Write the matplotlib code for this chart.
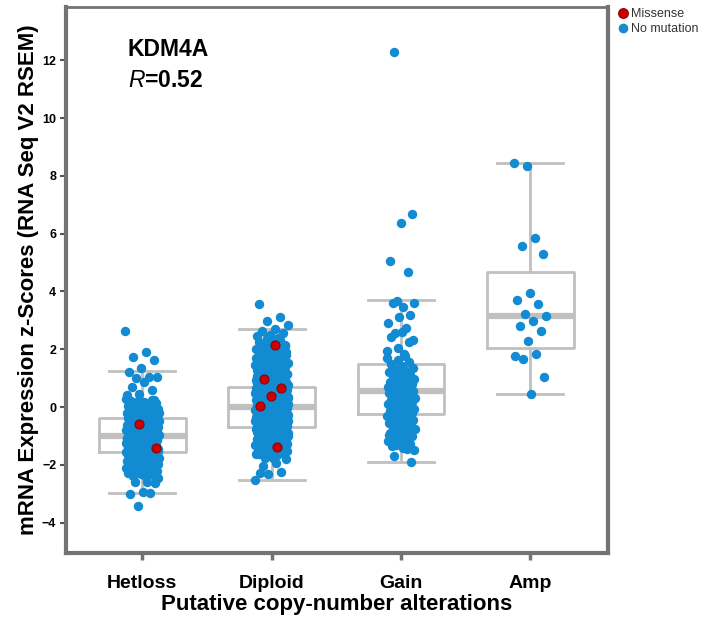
import matplotlib
matplotlib.use("Agg")
import matplotlib.pyplot as plt
from matplotlib.lines import Line2D
import numpy as np

plt.rcParams["font.family"] = ["Liberation Sans", "DejaVu Sans"]
plt.rcParams["mathtext.fontset"] = "custom"
plt.rcParams["mathtext.it"] = "Liberation Sans:italic"
plt.rcParams["mathtext.rm"] = "Liberation Sans"

categories = ["Hetloss", "Diploid", "Gain", "Amp"]
gene = "KDM4A"
r_value = 0.52

# Box statistics per group: lower whisker, Q1, median, Q3, upper whisker
whislo = [-2.98, -2.53, -1.90, 0.45]
q1 = [-1.56, -0.70, -0.25, 2.05]
medians = [-1.00, 0.00, 0.55, 3.15]
q3 = [-0.38, 0.70, 1.49, 4.67]
whishi = [1.25, 2.70, 3.72, 8.46]

hetloss_values = [
    2.63, 1.90, 1.74, 1.63, 1.34, 1.22, 1.05, 1.00, 1.05, 0.88, 0.70, 0.59, 0.45, 0.40,
    -2.60, -2.58, -2.62, -2.95, -3.00, -2.97, -3.43,
    -2.45, -2.41, -2.38, -2.36, -2.33, -2.30, -2.28, -2.25, -2.23, -2.21, -2.19, -2.16, -2.14, -2.12,
    -2.10, -2.08, -2.06, -2.04, -2.02, -2.00,
    -1.98, -1.96, -1.95, -1.93, -1.91, -1.90, -1.88, -1.86, -1.85, -1.83, -1.81, -1.80, -1.78, -1.77,
    -1.75, -1.73, -1.72, -1.70, -1.69, -1.67, -1.66, -1.64, -1.63, -1.61, -1.60, -1.58, -1.57, -1.55,
    -1.54, -1.52, -1.51, -1.49, -1.48, -1.46, -1.45, -1.44, -1.42, -1.41, -1.39, -1.38, -1.37, -1.35,
    -1.34, -1.32, -1.31, -1.30, -1.28, -1.27, -1.26, -1.24, -1.23, -1.22, -1.20, -1.19, -1.18, -1.16,
    -1.15, -1.14, -1.12, -1.11, -1.10, -1.08, -1.07, -1.06, -1.04, -1.03, -1.02, -1.01,
    -0.99, -0.98, -0.96, -0.95, -0.94, -0.92, -0.91, -0.90, -0.88, -0.87, -0.86, -0.84, -0.83, -0.81,
    -0.80, -0.79, -0.77, -0.76, -0.74, -0.73, -0.71, -0.70, -0.68, -0.67, -0.65, -0.64, -0.62, -0.61,
    -0.59, -0.58, -0.56, -0.55, -0.53, -0.52, -0.50,
    -0.48, -0.46, -0.44, -0.42, -0.40, -0.38, -0.36, -0.34, -0.32, -0.30, -0.28, -0.26, -0.24, -0.22,
    -0.20, -0.18, -0.16, -0.14, -0.12, -0.10, -0.08, -0.06, -0.04, -0.02, 0.00,
    0.02, 0.05, 0.08, 0.11, 0.14, 0.17, 0.20, 0.23, 0.26, 0.29,
    -2.35, -2.18, -2.05, -1.92, -1.84, -1.71, -1.62, -1.53, -1.43, -1.33, -1.25, -1.17, -1.09,
    -0.97, -0.89, -0.78, -0.69, -0.57, -0.47, -0.35, -0.21, -0.07, 0.10, 0.25,
]

diploid_values = [
    3.57, 3.13, 2.98, 2.85, 2.70, 2.62, 2.55, 2.50, 2.45, 2.40,
    -1.77, -1.80, -1.75, -2.30, -2.25, -2.33, -2.53, -1.95, -2.05,
    1.02, 1.05, 1.07, 1.10, 1.12, 1.15, 1.18, 1.20, 1.23, 1.26, 1.28, 1.31, 1.34, 1.37, 1.40, 1.43,
    1.46, 1.49, 1.52, 1.55, 1.58, 1.62, 1.65, 1.69, 1.72, 1.76, 1.80, 1.84, 1.88, 1.92, 1.96, 2.00,
    2.05, 2.10, 2.15, 2.20, 2.26, 2.32, 2.38,
    -1.01, -1.03, -1.05, -1.08, -1.10, -1.12, -1.14, -1.17, -1.19, -1.21, -1.24, -1.26, -1.28, -1.31,
    -1.33, -1.36, -1.38, -1.41, -1.43, -1.46, -1.48, -1.51, -1.53, -1.56, -1.58, -1.61, -1.63, -1.66,
    -0.99, -0.98, -0.96, -0.95, -0.94, -0.92, -0.91, -0.90, -0.89, -0.87, -0.86, -0.85, -0.84, -0.82,
    -0.81, -0.80, -0.78, -0.77, -0.76, -0.75, -0.73, -0.72, -0.71, -0.70, -0.69, -0.68, -0.66, -0.65,
    -0.64, -0.63, -0.62, -0.60, -0.59, -0.58, -0.57, -0.56, -0.55, -0.53, -0.52, -0.51, -0.50, -0.49,
    -0.48, -0.46, -0.45, -0.44, -0.43, -0.42, -0.41, -0.40, -0.38, -0.37, -0.36, -0.35, -0.34, -0.33,
    -0.32, -0.30, -0.29, -0.28, -0.27, -0.26, -0.25, -0.24, -0.22, -0.21, -0.20, -0.19, -0.18, -0.17,
    -0.16, -0.15, -0.13, -0.12, -0.11, -0.10, -0.09, -0.08, -0.07, -0.06, -0.05, -0.04, -0.03, -0.02,
    -0.01, 0.00, 0.01, 0.02, 0.03, 0.04, 0.05, 0.06, 0.07, 0.08, 0.09, 0.10, 0.11, 0.12, 0.13, 0.14,
    0.15, 0.16, 0.17, 0.18, 0.20, 0.21, 0.22, 0.23, 0.24, 0.25, 0.26, 0.27, 0.29, 0.30, 0.31, 0.32,
    0.33, 0.34, 0.35, 0.37, 0.38, 0.39, 0.40, 0.41, 0.42, 0.44, 0.45, 0.46, 0.47, 0.48, 0.50, 0.51,
    0.52, 0.53, 0.55, 0.56, 0.57, 0.58, 0.60, 0.61, 0.62, 0.63, 0.65, 0.66, 0.67, 0.68, 0.70, 0.71,
    0.72, 0.74, 0.75, 0.76, 0.78, 0.79, 0.80, 0.82, 0.83, 0.84, 0.86, 0.87, 0.89, 0.90, 0.92, 0.93,
    0.95, 0.96, 0.98, 0.99,
    -1.64, -1.52, -1.39, -1.27, -1.16, -1.06, -0.97, -0.88, -0.79, -0.67, -0.54, -0.39, -0.23,
    -0.14, 0.19, 0.28, 0.36, 0.43, 0.54, 0.64, 0.73, 0.81, 0.91, 1.03, 1.13, 1.24, 1.35, 1.47,
    1.59, 1.71, 1.83, 1.97, 2.12, 2.28, -1.45, -1.22, -0.83, -0.47, -0.31, 0.07, 0.49, 0.77,
    1.08, 1.33, 1.61, 1.90, 2.18, -1.35, -0.61, 0.58, 1.45, 1.74,
]

gain_values = [
    12.27, 6.68, 6.37, 5.06, 4.66, 3.67, 3.60, 3.45, 3.60, 3.20, 3.10, 2.90, 2.75, 2.56, 2.32,
    2.61, 2.44, 2.26, 2.05, 1.95, 1.85, -1.69, -1.90, -1.14, -0.96, -1.45, -1.30,
    -1.49, -1.42, -1.36, -1.28, -1.22, -1.18, -1.10, -1.05, -1.00, -0.95, -0.90, -0.85, -0.80, -0.76,
    -0.72, -0.68, -0.64, -0.60, -0.56, -0.52, -0.49, -0.46, -0.42, -0.39, -0.36, -0.33, -0.30, -0.27,
    -0.24, -0.21, -0.18, -0.15, -0.12, -0.09, -0.06, -0.03, 0.00, 0.03, 0.06, 0.09, 0.12, 0.15,
    0.18, 0.21, 0.24, 0.27, 0.30, 0.33, 0.36, 0.39, 0.42, 0.45, 0.48, 0.51, 0.54, 0.56, 0.58, 0.61,
    0.64, 0.67, 0.70, 0.73, 0.76, 0.79, 0.82, 0.86, 0.90, 0.94, 0.98, 1.02, 1.06, 1.10, 1.15, 1.20,
    1.25, 1.30, 1.36, 1.42, 1.48, 1.55, 1.62, 1.70, 1.78,
]

amp_values = [
    8.35, 8.45, 5.85, 5.56, 5.30, 3.96, 3.71, 3.57, 3.22, 3.15,
    2.98, 2.82, 2.63, 2.29, 1.78, 1.84, 1.65, 1.03, 0.44,
]

# Missense-mutated samples: group index and expression value
missense_group = [0, 0, 1, 1, 1, 1, 1, 1]
missense_values = [-0.57, -1.41, 2.15, 0.96, 0.65, 0.39, 0.05, -1.40]

no_mutation_values = [hetloss_values, diploid_values, gain_values, amp_values]

BLUE = "#128bd2"
RED = "#d00000"
GREY = "#c0c0c0"
FRAME = "#737373"


def strip_offsets(n, half_width, phase=0.0):
    """Deterministic horizontal spread for a strip plot."""
    k = (np.arange(n) * 0.6180339887 + phase) % 1.0
    return (k - 0.5) * 2 * half_width


fig = plt.figure(figsize=(7.02, 6.22), dpi=100)
ax = fig.add_axes([0.094, 0.111, 0.772, 0.878])

positions = np.arange(len(categories))
stats = [
    dict(whislo=whislo[i], q1=q1[i], med=medians[i], q3=q3[i], whishi=whishi[i])
    for i in range(len(categories))
]
ax.bxp(
    stats,
    positions=positions,
    widths=0.67,
    capwidths=0.51,
    showfliers=False,
    boxprops=dict(color=GREY, linewidth=2.0),
    whiskerprops=dict(color=GREY, linewidth=2.0),
    capprops=dict(color=GREY, linewidth=2.0),
    medianprops=dict(color=GREY, linewidth=4.5, solid_capstyle="butt"),
    zorder=1,
)

half_widths = [0.13, 0.13, 0.11, 0.13]
for i, vals in enumerate(no_mutation_values):
    xs = positions[i] + strip_offsets(len(vals), half_widths[i], phase=0.13 * i)
    ax.scatter(xs, vals, s=46, color=BLUE, linewidths=0, zorder=3)

mg = np.array(missense_group)
mx = positions[mg] + strip_offsets(len(mg), 0.11, phase=0.37)
ax.scatter(mx, missense_values, s=42, color=RED, edgecolors="#8a0000",
           linewidths=0.8, zorder=4)

ax.set_xlim(-0.59, 3.6)
ax.set_ylim(-5.05, 13.85)
ax.set_yticks(np.arange(-4, 13, 2))
ax.set_xticks(positions)
ax.set_xticklabels(categories, fontsize=14, fontweight="bold")
for lab in ax.get_yticklabels():
    lab.set_fontsize(9)
    lab.set_fontweight("bold")
ax.tick_params(axis="y", length=4, width=1.5, color="#555555", pad=3)
ax.tick_params(axis="x", length=5, width=2.5, color=FRAME, pad=11)

for side, spine in ax.spines.items():
    spine.set_color(FRAME)
    spine.set_linewidth(3.0 if side != "top" else 2.0)

ax.set_ylabel("mRNA Expression z-Scores (RNA Seq V2 RSEM)", fontsize=16,
              fontweight="bold", labelpad=2)
ax.set_xlabel("Putative copy-number alterations", fontsize=16,
              fontweight="bold", labelpad=1)

ax.text(0.114, 0.921, gene, transform=ax.transAxes, fontsize=16.5,
        fontweight="bold", va="center", ha="left")
ax.text(0.114, 0.866, r"$R$=" + f"{r_value:.2f}", transform=ax.transAxes,
        fontsize=16.5, fontweight="bold", va="center", ha="left")

handles = [
    Line2D([], [], marker="o", linestyle="none", markersize=7,
           markerfacecolor=RED, markeredgecolor="#8a0000", markeredgewidth=0.8,
           label="Missense"),
    Line2D([], [], marker="o", linestyle="none", markersize=7,
           markerfacecolor=BLUE, markeredgewidth=0, label="No mutation"),
]
fig.legend(handles=handles, loc="upper left", bbox_to_anchor=(0.872, 0.995),
           frameon=False, fontsize=9, handletextpad=0.1, handlelength=1.0,
           labelspacing=0.25, borderaxespad=0, labelcolor="#333333")

fig.savefig("out.png", dpi=100)
